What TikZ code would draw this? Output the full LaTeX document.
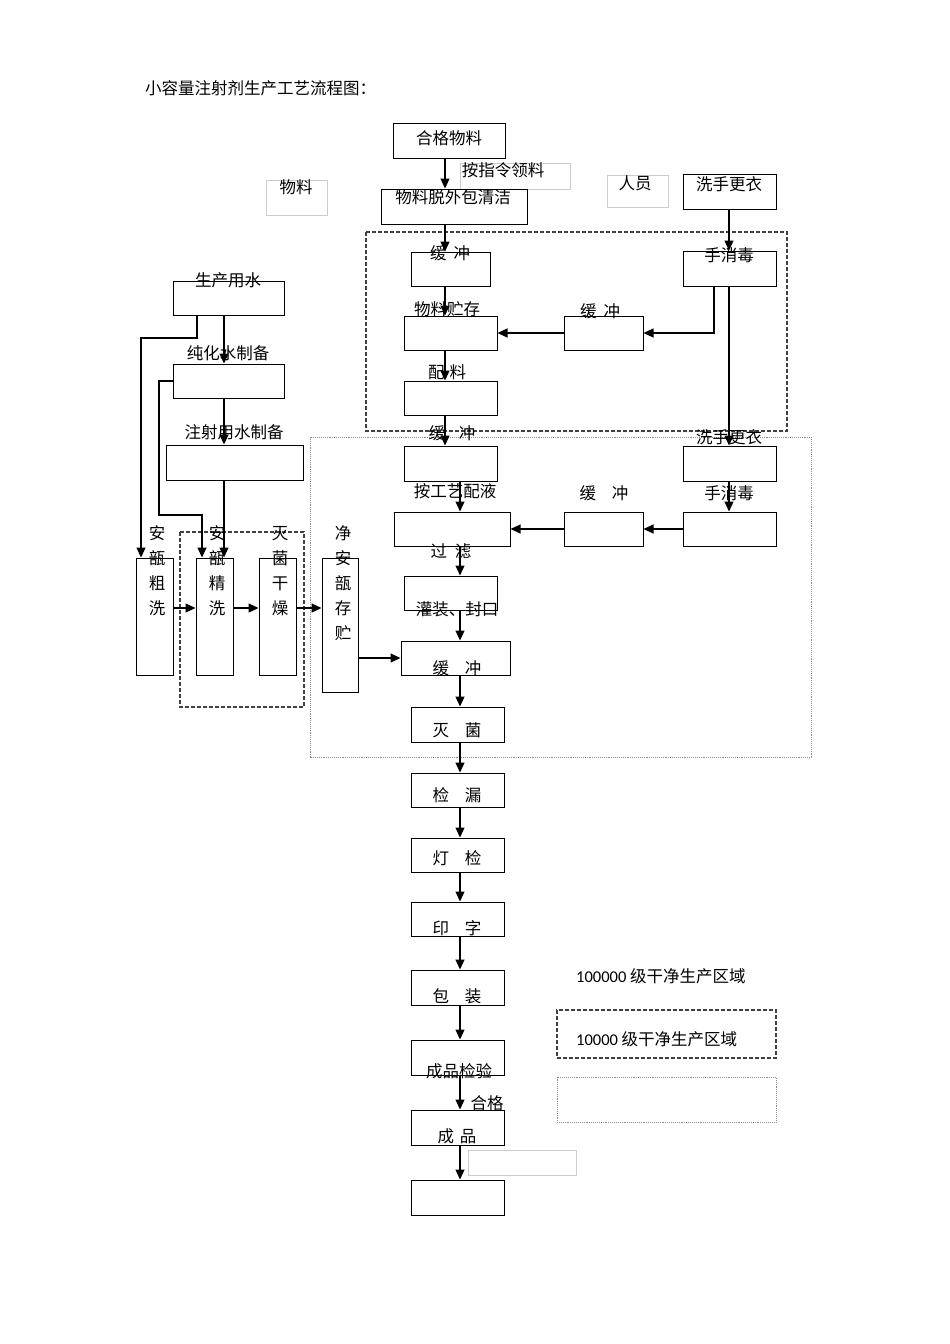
\documentclass[tikz,border=0pt]{standalone}
\usepackage{fontspec}
\setmainfont{Noto Sans CJK SC}
\newfontfamily\latinfont{Carlito}
\usetikzlibrary{arrows.meta}
\tikzset{
  box/.style={draw=black,line width=1pt,inner sep=0pt},
  greybox/.style={draw=black!20,line width=0.8pt,inner sep=0pt},
  lbl/.style={inner sep=0pt,font=\fontsize{16.5}{25}\selectfont},
  vlbl/.style={lbl,align=center,text width=17pt},
  arr/.style={line width=1.2pt,-{Triangle[length=10pt,width=9pt]}},
  ln/.style={line width=1.2pt},
  zoneA/.style={draw=black!75,line width=1.1pt,dash pattern=on 4pt off 2pt},
  zoneB/.style={draw=black!45,line width=0.9pt,densely dotted},
}

\begin{document}
\begin{tikzpicture}[x=1pt,y=-1pt]
\useasboundingbox (0,0) rectangle (950,1344);

\node (title) [lbl,anchor=west] at (145,88) {小容量注射剂生产工艺流程图：};

\coordinate (colA) at (445,0);
\coordinate (colB) at (460,0);
\coordinate (colC) at (729,0);
\coordinate (colD) at (714,0);
\coordinate (colE) at (224,0);
\coordinate (colF) at (197,0);
\coordinate (rowR) at (0,608);

% clean zones
\draw[zoneA] (366,232) rectangle (787,431);
\draw[zoneB] (310,437) rectangle (811,757);
\draw[zoneA] (180,532) rectangle (304,707);

% materials and staff
\node (hgwl) [box,minimum width=112pt,minimum height=35pt] at (449,140.5) {};
\node (hgwlt) [lbl] at (449,138) {合格物料};
\node (zlgb) [greybox,minimum width=110pt,minimum height=26pt] at (515,176) {};
\node (zlgbt) [lbl] at (503,170) {按指令领料};
\node (wlgb) [greybox,minimum width=61pt,minimum height=35pt] at (296.5,197.5) {};
\node (wlgbt) [lbl] at (296,187) {物料};
\node (tbqj) [box,minimum width=146pt,minimum height=35pt] at (454,206.5) {};
\node (tbqjt) [lbl] at (453,197) {物料脱外包清洁};
\node (rygb) [greybox,minimum width=61pt,minimum height=32pt] at (637.5,191) {};
\node (rygbt) [lbl] at (635,183) {人员};
\node (xsgy1) [box,minimum width=93pt,minimum height=35pt] at (729.5,191.5) {};
\node (xsgy1t) [lbl] at (729,184) {洗手更衣};

\node (hc1) [box,minimum width=79pt,minimum height=34pt] at (450.5,269) {};
\node (hc1t) [lbl] at (450,253) {缓\hspace{7pt}冲};
\node (xds1) [box,minimum width=93pt,minimum height=35pt] at (729.5,268.5) {};
\node (xds1t) [lbl] at (729,255) {手消毒};
\node (wlzc) [box,minimum width=93pt,minimum height=34pt] at (450.5,333) {};
\node (wlzct) [lbl] at (447,309) {物料贮存};
\node (hc2) [box,minimum width=79pt,minimum height=34pt] at (603.5,333) {};
\node (hc2t) [lbl] at (600,311) {缓\hspace{7pt}冲};
\node (pl) [box,minimum width=93pt,minimum height=34pt] at (450.5,398) {};
\node (plt) [lbl] at (447,372) {配\hspace{5pt}料};

\node (hc3) [box,minimum width=93pt,minimum height=35pt] at (450.5,463.5) {};
\node (hc3t) [lbl] at (452,433) {缓\hspace{14pt}冲};
\node (xsgy2) [box,minimum width=93pt,minimum height=35pt] at (729.5,463.5) {};
\node (xsgy2t) [lbl] at (729,437) {洗手更衣};
\node (pyy) [box,minimum width=116pt,minimum height=34pt] at (452,529) {};
\node (pyyt) [lbl] at (455,491) {按工艺配液};
\node (hc4) [box,minimum width=79pt,minimum height=34pt] at (603.5,529) {};
\node (hc4t) [lbl] at (604,493) {缓\hspace{16pt}冲};
\node (xds2) [box,minimum width=93pt,minimum height=34pt] at (729.5,529) {};
\node (xds2t) [lbl] at (729,493) {手消毒};
\node (gl) [box,minimum width=93pt,minimum height=34pt] at (450.5,593) {};
\node (glt) [lbl] at (451,551) {过\hspace{8pt}滤};
\node (gz) [box,minimum width=109pt,minimum height=34pt] at (455.5,658) {};
\node (gzt) [lbl] at (457,609) {灌装、封口};
\node (gzh) [lbl] at (457,668) {缓\hspace{16pt}冲};
\node (mj) [box,minimum width=93pt,minimum height=35pt] at (457.5,724.5) {};
\node (mjt) [lbl] at (457,730) {灭\hspace{16pt}菌};

% after the clean zone
\node (jl) [box,minimum width=93pt,minimum height=34pt] at (457.5,790) {};
\node (jlt) [lbl] at (457,795) {检\hspace{16pt}漏};
\node (dj) [box,minimum width=93pt,minimum height=34pt] at (457.5,855) {};
\node (djt) [lbl] at (457,858) {灯\hspace{16pt}检};
\node (yz) [box,minimum width=93pt,minimum height=34pt] at (457.5,919) {};
\node (yzt) [lbl] at (457,928) {印\hspace{16pt}字};
\node (bz) [box,minimum width=93pt,minimum height=35pt] at (457.5,987.5) {};
\node (bzt) [lbl] at (457,996) {包\hspace{16pt}装};
\node (cpjy) [box,minimum width=93pt,minimum height=35pt] at (457.5,1057.5) {};
\node (cpjyt) [lbl] at (459,1071) {成品检验};
\node (hg) [lbl] at (487,1103) {合格};
\node (cp) [box,minimum width=93pt,minimum height=35pt] at (457.5,1127.5) {};
\node (cpt) [lbl] at (457,1136) {成\hspace{6pt}品};
\node (cpgb) [greybox,minimum width=108pt,minimum height=25pt] at (522,1162.5) {};
\node (rk) [box,minimum width=93pt,minimum height=35pt] at (457.5,1197.5) {};

% water and ampoules
\node (scys) [box,minimum width=111pt,minimum height=34pt] at (228.5,298) {};
\node (scyst) [lbl] at (228,280) {生产用水};
\node (chs) [box,minimum width=111pt,minimum height=34pt] at (228.5,381) {};
\node (chst) [lbl] at (228,353) {纯化水制备};
\node (zsys) [box,minimum width=137pt,minimum height=35pt] at (234.5,462.5) {};
\node (zsyst) [lbl] at (234,432) {注射用水制备};

\node (acx) [box,minimum width=37pt,minimum height=117pt] at (154.5,616.5) {};
\node (acxt) [vlbl] at (157,571) {安\\瓿\\粗\\洗};
\node (ajx) [box,minimum width=37pt,minimum height=117pt] at (214.5,616.5) {};
\node (ajxt) [vlbl] at (217,571) {安\\瓿\\精\\洗};
\node (mjgz) [box,minimum width=37pt,minimum height=117pt] at (277.5,616.5) {};
\node (mjgzt) [vlbl] at (280,571) {灭\\菌\\干\\燥};
\node (jacz) [box,minimum width=36pt,minimum height=134pt] at (340,625) {};
\node (jaczt) [vlbl] at (343,583.5) {净\\安\\瓿\\存\\贮};

\coordinate (k1) at (141,338);
\coordinate (k2) at (159,515);
\coordinate (k3) at (202,515);

% legend
\node (lg1) [lbl,anchor=west] at (576,976) {{\latinfont 100000} 级干净生产区域};
\node (lg2box) [draw=black!75,line width=1.1pt,dash pattern=on 4pt off 2pt,minimum width=219pt,minimum height=48pt,inner sep=0pt] at (666.5,1034) {};
\node (lg2) [lbl,anchor=west] at (576,1039) {{\latinfont 10000} 级干净生产区域};
\node (lg3box) [zoneB,minimum width=219pt,minimum height=45pt,inner sep=0pt] at (666.5,1099.5) {};

% material flow
\draw[arr] (hgwl.south -| colA) -- (tbqj.north -| colA);
\draw[arr] (tbqj.south -| colA) -- (hc1.north -| colA);
\draw[arr] (hc1.south -| colA) -- (wlzc.north -| colA);
\draw[arr] (wlzc.south -| colA) -- (pl.north -| colA);
\draw[arr] (pl.south -| colA) -- (hc3.north -| colA);
\draw[arr] (hc3.south -| colB) -- (pyy.north -| colB);
\draw[arr] (pyy.south -| colB) -- (gl.north -| colB);
\draw[arr] (gl.south -| colB) -- (gz.north -| colB);
\draw[arr] (gz.south -| colB) -- (mj.north -| colB);
\draw[arr] (mj.south -| colB) -- (jl.north -| colB);
\draw[arr] (jl.south -| colB) -- (dj.north -| colB);
\draw[arr] (dj.south -| colB) -- (yz.north -| colB);
\draw[arr] (yz.south -| colB) -- (bz.north -| colB);
\draw[arr] (bz.south -| colB) -- (cpjy.north -| colB);
\draw[arr] (cpjy.south -| colB) -- (cp.north -| colB);
\draw[arr] (cp.south -| colB) -- (rk.north -| colB);

% staff flow
\draw[arr] (xsgy1.south -| colC) -- (xds1.north -| colC);
\draw[arr] (xds1.south -| colC) -- (xsgy2.north -| colC);
\draw[arr] (xds1.south -| colD) |- (hc2.east);
\draw[arr] (hc2.west) -- (wlzc.east);
\draw[arr] (xsgy2.south -| colC) -- (xds2.north -| colC);
\draw[arr] (xds2.west) -- (hc4.east);
\draw[arr] (hc4.west) -- (pyy.east);

% water
\draw[arr] (scys.south -| colE) -- (chs.north -| colE);
\draw[arr] (chs.south -| colE) -- (zsys.north -| colE);
\draw[arr] (scys.south -| colF) |- (k1) -- (acx.north -| k1);
\draw[arr] (chs.west) -| (k2) -- (k3) -- (ajx.north -| k3);
\draw[arr] (zsys.south -| colE) -- (ajx.north -| colE);

% ampoules
\draw[arr] (acx.east |- rowR) -- (ajx.west |- rowR);
\draw[arr] (ajx.east |- rowR) -- (mjgz.west |- rowR);
\draw[arr] (mjgz.east |- rowR) -- (jacz.west |- rowR);
\draw[arr] (jacz.east |- gz.west) -- (gz.west);

\end{tikzpicture}
\end{document}
